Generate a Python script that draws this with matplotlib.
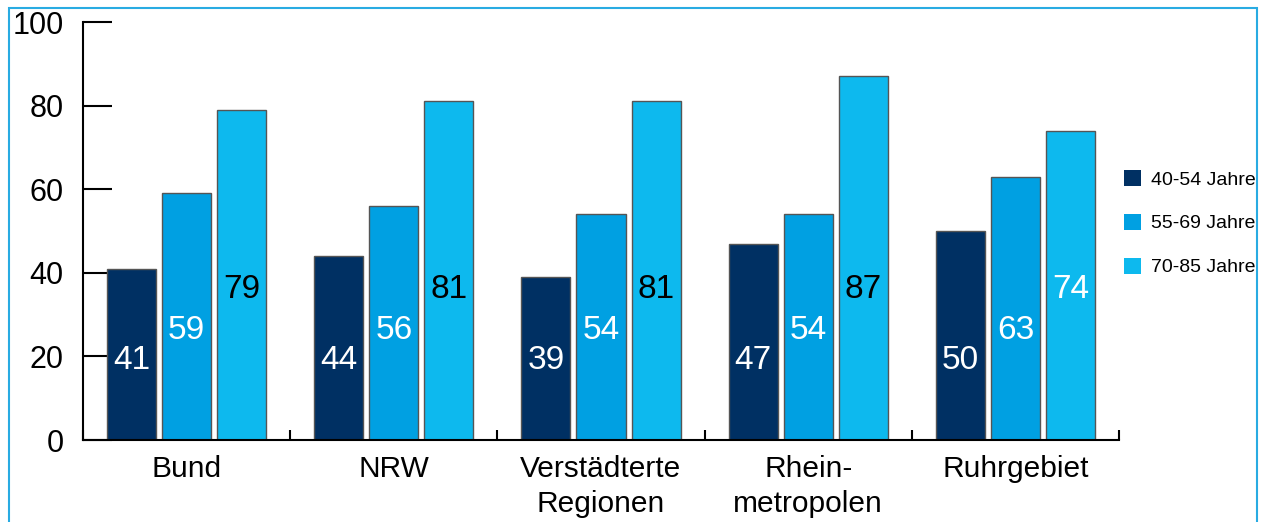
import matplotlib
matplotlib.use("Agg")
import matplotlib.pyplot as plt
import numpy as np
from matplotlib.patches import Rectangle, Patch

plt.rcParams['font.family'] = ['Liberation Sans', 'DejaVu Sans']

categories = ["Bund", "NRW", "Verstädterte\nRegionen", "Rhein-\nmetropolen", "Ruhrgebiet"]
series_names = ["40-54 Jahre", "55-69 Jahre", "70-85 Jahre"]
v40_54 = [41, 44, 39, 47, 50]
v55_69 = [59, 56, 54, 54, 63]
v70_85 = [79, 81, 81, 87, 74]
label_y = [19, 26.3, 36]
label_colors = [
    ["white"] * 5,
    ["white"] * 5,
    ["black", "black", "black", "black", "white"],
]
colors = ["#003063", "#00A0E2", "#0DB9EE"]

fig = plt.figure(figsize=(12.7, 5.22), dpi=100)
ax = fig.add_axes([83/1270, 1-440/522, (1119-83)/1270, (440-22)/522])

x = np.arange(len(categories))
step = 0.266
width = 0.237
series = [v40_54, v55_69, v70_85]
for i, vals in enumerate(series):
    xs = x + (i - 1) * step
    ax.bar(xs, vals, width=width, color=colors[i], edgecolor="#555555",
           linewidth=1.0, label=series_names[i], zorder=2)
    for j, xv in enumerate(xs):
        ax.text(xv, label_y[i], str(vals[j]), ha="center", va="center",
                fontsize=24, color=label_colors[i][j], zorder=3)

ax.set_xlim(-0.5, len(categories) - 0.5)
ax.set_ylim(0, 100)
ax.set_yticks([0, 20, 40, 60, 80, 100])
ax.tick_params(axis="y", direction="in", length=21, width=1.5, labelsize=22, pad=14)
ax.set_xticks(x)
ax.set_xticklabels(categories, fontsize=21.5, linespacing=1.3)
ax.tick_params(axis="x", which="major", length=0, pad=11)
ax.set_xticks(np.arange(-0.5, len(categories), 1.0), minor=True)
ax.tick_params(axis="x", which="minor", direction="in", length=7, width=1.5)
for s in ["top", "right"]:
    ax.spines[s].set_visible(False)
for s in ["left", "bottom"]:
    ax.spines[s].set_linewidth(1.5)

handles = [Patch(facecolor=c, edgecolor="none") for c in colors]
leg = fig.legend(handles, series_names, loc="upper left", bbox_to_anchor=(1124/1270, 1-170/522),
                 frameon=False, fontsize=14, handlelength=0.87, handleheight=0.87,
                 handletextpad=0.5, labelspacing=1.3, borderaxespad=0, borderpad=0)

fig.patches.append(Rectangle((9/1270, -0.1), (1257-9)/1270, 1.1 - 8/522,
                             transform=fig.transFigure, fill=False,
                             edgecolor="#29ABE2", linewidth=1.5))

fig.savefig("out.png", dpi=100)
